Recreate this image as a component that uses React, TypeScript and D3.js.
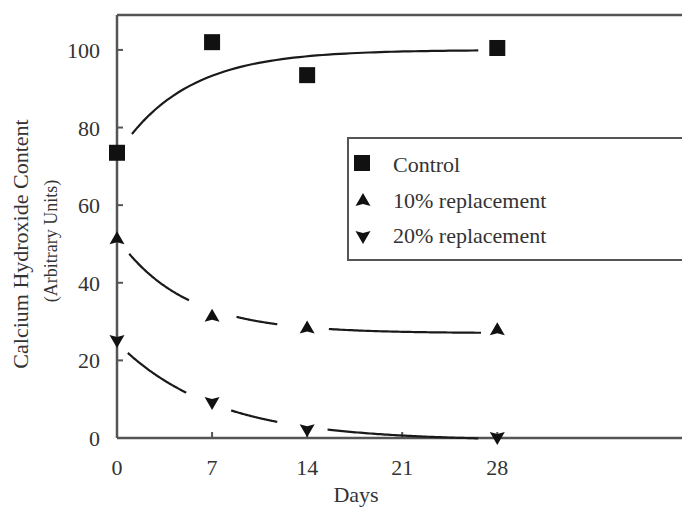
import React from "react";
import * as d3 from "d3";

const days = [0, 7, 14, 28];
const controlValues = [73.5, 102, 93.5, 100.5];
const rep10Values = [51.5, 31.5, 28.5, 28];
const rep20Values = [25, 9, 2, 0];

// fitted curves: y = A + B * exp(-k t)
const controlFit = { A: 100, B: -27, k: 0.2 };
const rep10Fit = { A: 27, B: 24.5, k: 0.2 };
const rep20Fit = { A: -0.7, B: 25.3, k: 0.14 };

const controlSegments = [[1.1, 26.6]];
const rep10Segments = [[0.9, 5.3], [8.8, 11.8], [15.6, 26.8]];
const rep20Segments = [[0.8, 5.1], [8.4, 11.8], [15.5, 26.6]];

const xTicks = [0, 7, 14, 21, 28];
const yTicks = [0, 20, 40, 60, 80, 100];
const legendLabels = ["Control", "10% replacement", "20% replacement"];

const W = 682, H = 509;
const FONT = "'Liberation Serif', 'DejaVu Serif', serif";

export default function App() {
  const x = d3.scaleLinear().domain([0, 41.6]).range([117, 682]);
  const y = d3.scaleLinear().domain([0, 109]).range([438, 15]);

  const curvePath = (fit: { A: number; B: number; k: number }, seg: number[]) => {
    const pts = d3.range(seg[0], seg[1] + 0.001, (seg[1] - seg[0]) / 60).map((t) => [t, fit.A + fit.B * Math.exp(-fit.k * t)] as [number, number]);
    return d3.line<[number, number]>().x((d) => x(d[0])).y((d) => y(d[1]))(pts) || "";
  };

  const sq = (cx: number, cy: number, key: string) => (
    <rect key={key} x={cx - 8} y={cy - 8} width={16} height={16} fill="#111" />
  );
  const triUp = (cx: number, cy: number, key: string) => (
    <path key={key} d={`M${cx},${cy - 7} L${cx + 7.5},${cy + 6} L${cx},${cy + 4} L${cx - 7.5},${cy + 6} Z`} fill="#111" />
  );
  const triDown = (cx: number, cy: number, key: string) => (
    <path key={key} d={`M${cx},${cy + 7} L${cx + 7.5},${cy - 6} L${cx},${cy - 4} L${cx - 7.5},${cy - 6} Z`} fill="#111" />
  );

  const lineColor = "#1a1a1a";
  const axisColor = "#555";
  const textColor = "#333";

  return (
    <svg width={W} height={H} style={{ position: "absolute", left: 0, top: 0, background: "#fff" }} fontFamily={FONT}>
      {/* frame */}
      <line x1={x(0)} x2={W} y1={y(109)} y2={y(109)} stroke={axisColor} strokeWidth={2.5} />
      <line x1={x(0)} x2={x(0)} y1={y(109)} y2={y(0)} stroke={axisColor} strokeWidth={2.5} />
      <line x1={x(0)} x2={W} y1={y(0)} y2={y(0)} stroke={axisColor} strokeWidth={2.5} />

      {/* y ticks */}
      {yTicks.map((v) => (
        <g key={"y" + v}>
          {v > 0 && <line x1={x(0)} x2={x(0) + 6} y1={y(v)} y2={y(v)} stroke={axisColor} strokeWidth={2} />}
          <text x={100} y={y(v) + 8} textAnchor="end" fontSize={22} fill={textColor}>{v}</text>
        </g>
      ))}
      {/* x ticks */}
      {xTicks.map((v) => (
        <g key={"x" + v}>
          {v > 0 && <line x1={x(v)} x2={x(v)} y1={y(0)} y2={y(0) - 6} stroke={axisColor} strokeWidth={2} />}
          <text x={x(v)} y={475} textAnchor="middle" fontSize={22} fill={textColor}>{v}</text>
        </g>
      ))}

      <text x={356} y={502} textAnchor="middle" fontSize={22} fill={textColor}>Days</text>
      <text transform={`translate(28,244) rotate(-90)`} textAnchor="middle" fontSize={22} fill={textColor}>Calcium Hydroxide Content</text>
      <text transform={`translate(57,241) rotate(-90)`} textAnchor="middle" fontSize={18} fill={textColor}>(Arbitrary Units)</text>

      {/* curves */}
      {controlSegments.map((s, i) => <path key={"c" + i} d={curvePath(controlFit, s)} fill="none" stroke={lineColor} strokeWidth={2.2} />)}
      {rep10Segments.map((s, i) => <path key={"a" + i} d={curvePath(rep10Fit, s)} fill="none" stroke={lineColor} strokeWidth={2.2} />)}
      {rep20Segments.map((s, i) => <path key={"b" + i} d={curvePath(rep20Fit, s)} fill="none" stroke={lineColor} strokeWidth={2.2} />)}

      {/* markers */}
      {days.map((d, i) => sq(x(d), y(controlValues[i]), "s" + i))}
      {days.map((d, i) => triUp(x(d), y(rep10Values[i]), "u" + i))}
      {days.map((d, i) => triDown(x(d), y(rep20Values[i]), "d" + i))}

      {/* legend */}
      <rect x={348} y={138} width={360} height={122} fill="#fff" stroke={axisColor} strokeWidth={2} />
      {sq(362, 163, "ls")}
      {triUp(363, 200, "lu")}
      {triDown(363, 237, "ld")}
      {legendLabels.map((l, i) => (
        <text key={l} x={393} y={172 + i * 35.5} fontSize={22} fill={textColor}>{l}</text>
      ))}
    </svg>
  );
}
